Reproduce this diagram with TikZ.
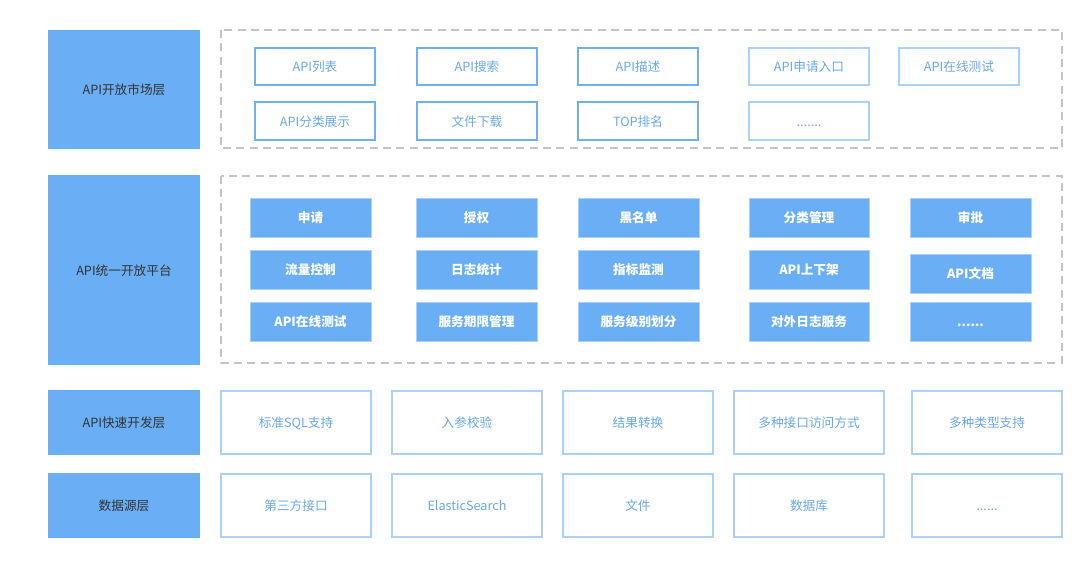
\documentclass[tikz,border=0pt]{standalone}
\usepackage{fontspec}
\setmainfont{Noto Sans CJK SC}
\usepackage{xcolor}
\definecolor{apiblue}{RGB}{106,175,245}
\definecolor{lineblue}{RGB}{110,176,240}
\definecolor{paleblue}{RGB}{170,210,248}
\definecolor{textblue}{RGB}{104,168,232}
\definecolor{dashgrey}{RGB}{196,196,196}
\definecolor{labelgrey}{RGB}{51,51,51}

\begin{document}
\begin{tikzpicture}[x=0.75pt,y=-0.75pt,font=\fontsize{9.5pt}{11pt}\selectfont]
	\tikzstyle{every node}+=[inner sep=0pt,text height=9.5pt,text depth=2pt]
	\tikzstyle{layer}=[draw=none,fill=apiblue,text=labelgrey]
	\tikzstyle{group}=[draw=dashgrey,dash pattern=on 6pt off 4pt,line width=0.8pt]
	\tikzstyle{item}=[draw=lineblue,line width=0.9pt,text=textblue]
	\tikzstyle{pale}=[draw=paleblue,line width=1.3pt,text=textblue]
	\tikzstyle{func}=[fill=apiblue,draw=paleblue,line width=0.6pt,text=white,font=\fontsize{9.5pt}{11pt}\selectfont\bfseries]
	\useasboundingbox (0,0) rectangle (1087,562);
	% layers on the left
	\draw [layer] (48,30) rectangle node (market) {API开放市场层} (200,149);
	\draw [layer] (48,175) rectangle node (platform) {API统一开放平台} (200,365);
	\draw [layer] (48,390) rectangle node (develop) {API快速开发层} (200,455);
	\draw [layer] (48,473) rectangle node (source) {数据源层} (200,538);
	% API open market
	\draw [group] (221,30) rectangle (1062,148);
	\draw [item] (255,48) rectangle node (mlist) {API列表} (375,85);
	\draw [item] (417,48) rectangle node (msearch) {API搜索} (537,85);
	\draw [item] (578,48) rectangle node (mdesc) {API描述} (698,85);
	\draw [pale] (749,48) rectangle node (mapply) {API申请入口} (869,85);
	\draw [pale] (899,48) rectangle node (mtest) {API在线测试} (1019,85);
	\draw [item] (255,102) rectangle node (mclass) {API分类展示} (375,140);
	\draw [item] (417,102) rectangle node (mdown) {文件下载} (537,140);
	\draw [item] (578,102) rectangle node (mtop) {TOP排名} (698,140);
	\draw [pale] (749,102) rectangle node (mmore) {.......} (869,140);
	% API unified open platform
	\draw [group] (221,176) rectangle (1062,363);
	\draw [func] (250,198) rectangle node (papply) {申请} (371,237);
	\draw [func] (416,198) rectangle node (pauth) {授权} (537,237);
	\draw [func] (578,198) rectangle node (pblack) {黑名单} (699,237);
	\draw [func] (749,198) rectangle node (pclass) {分类管理} (869,237);
	\draw [func] (910,198) rectangle node (paudit) {审批} (1031,237);
	\draw [func] (250,250) rectangle node (pflow) {流量控制} (371,289);
	\draw [func] (416,250) rectangle node (plog) {日志统计} (537,289);
	\draw [func] (578,250) rectangle node (pmetric) {指标监测} (699,289);
	\draw [func] (749,250) rectangle node (pshelf) {API上下架} (869,289);
	\draw [func] (910,254) rectangle node (pdoc) {API文档} (1031,293);
	\draw [func] (250,302) rectangle node (ptest) {API在线测试} (371,341);
	\draw [func] (416,302) rectangle node (pterm) {服务期限管理} (537,341);
	\draw [func] (578,302) rectangle node (plevel) {服务级别划分} (699,341);
	\draw [func] (749,302) rectangle node (pextlog) {对外日志服务} (869,341);
	\draw [func] (910,302) rectangle node (pmore) {......} (1031,341);
	% API fast development
	\draw [pale] (221,391) rectangle node (dsql) {标准SQL支持} (371,454);
	\draw [pale] (392,391) rectangle node (dcheck) {入参校验} (542,454);
	\draw [pale] (563,391) rectangle node (dconv) {结果转换} (713,454);
	\draw [pale] (734,391) rectangle node (daccess) {多种接口访问方式} (884,454);
	\draw [pale] (912,391) rectangle node (dtype) {多种类型支持} (1062,454);
	% data sources
	\draw [pale] (221,474) rectangle node (sthird) {第三方接口} (371,537);
	\draw [pale] (392,474) rectangle node (ses) {ElasticSearch} (542,537);
	\draw [pale] (563,474) rectangle node (sfile) {文件} (713,537);
	\draw [pale] (734,474) rectangle node (sdb) {数据库} (884,537);
	\draw [pale] (912,474) rectangle node (smore) {......} (1062,537);
\end{tikzpicture}
\end{document}
